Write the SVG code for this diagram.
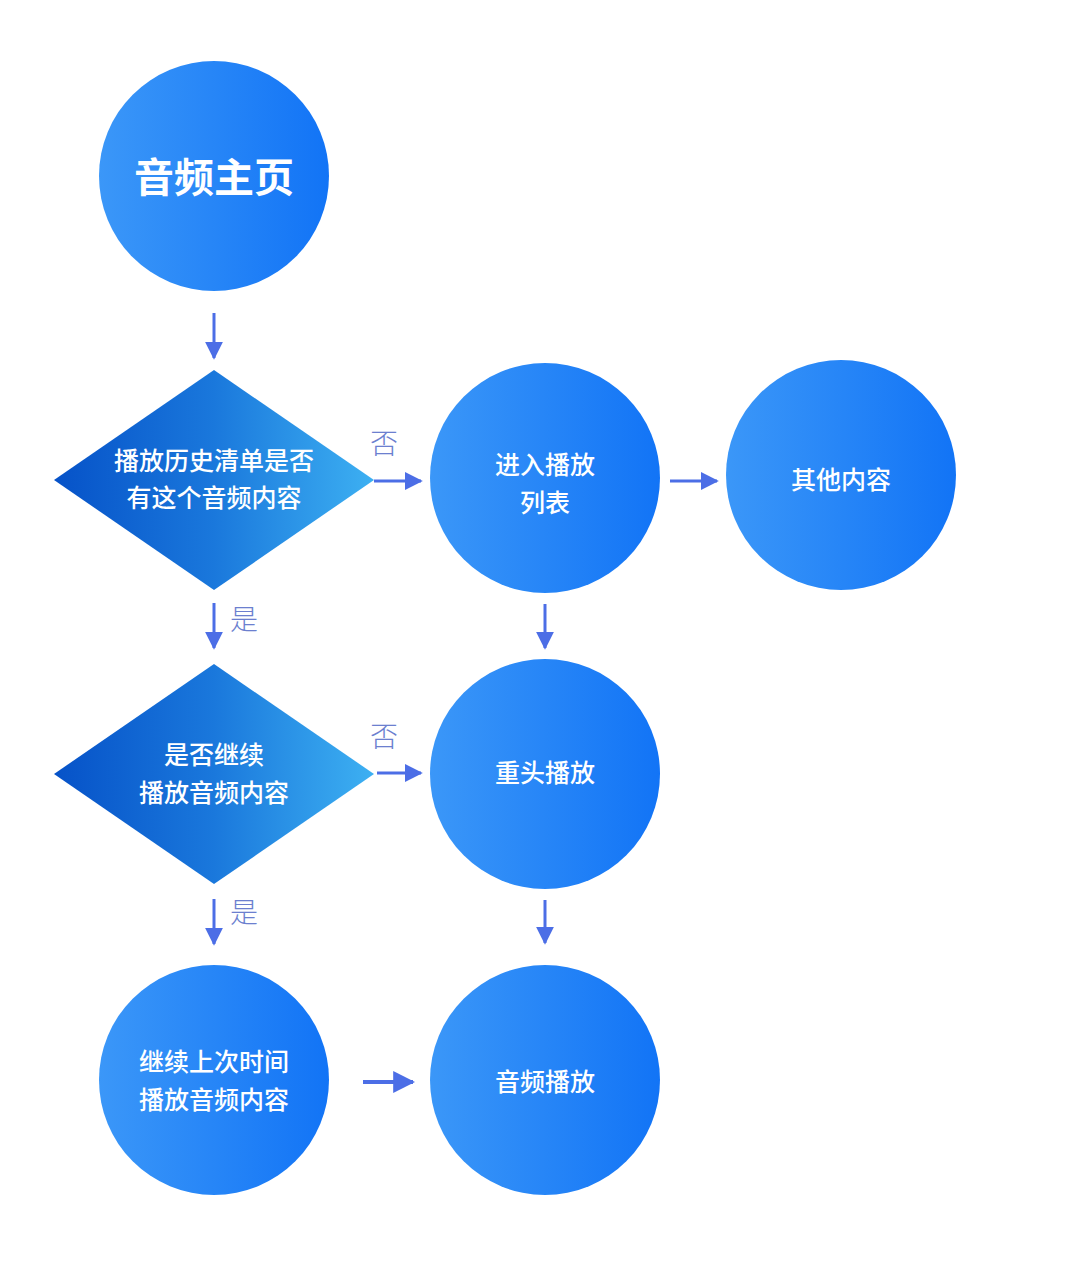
<svg xmlns="http://www.w3.org/2000/svg" width="1080" height="1281" viewBox="0 0 1080 1281">
<defs>
<linearGradient id="gc" x1="0" y1="0" x2="1" y2="0">
<stop offset="0" stop-color="#3b97f8"/>
<stop offset="1" stop-color="#1274f6"/>
</linearGradient>
<linearGradient id="gd" x1="0" y1="0" x2="1" y2="0">
<stop offset="0" stop-color="#0652c8"/>
<stop offset="0.5" stop-color="#1a78dc"/>
<stop offset="1" stop-color="#3db0f2"/>
</linearGradient>
<marker id="ah" viewBox="0 0 10 10" refX="9" refY="5" markerWidth="6" markerHeight="6" markerUnits="strokeWidth" orient="auto">
<path d="M0,0 L10,5 L0,10 Z" fill="#4c6ee6"/>
</marker>
<marker id="ahb" viewBox="0 0 10 10" refX="9" refY="5" markerWidth="5.5" markerHeight="6.5" markerUnits="strokeWidth" orient="auto">
<path d="M0,0 L10,5 L0,10 Z" fill="#4c6ee6"/>
</marker>
</defs>
<style>
.c{fill:url(#gc)}
.d{fill:url(#gd)}
.t{font-family:"Noto Sans CJK SC","Noto Sans",sans-serif;fill:#fff;font-weight:500;text-anchor:middle;font-size:25px}
.big{font-size:40px;font-weight:600}
.l{font-family:"Noto Sans CJK SC","Noto Sans",sans-serif;fill:#6c7fcf;font-weight:300;font-size:28px;text-anchor:middle}
.a{stroke:#4c6ee6;stroke-width:3;fill:none;marker-end:url(#ah)}
.ab{stroke:#4c6ee6;stroke-width:4;fill:none;marker-end:url(#ahb)}
</style>
<rect width="1080" height="1281" fill="#fff"/>
<g id="n1"><circle class="c" cx="214" cy="176" r="115"/><text class="t big" x="214" y="192">音频主页</text></g>
<g id="n2"><path class="d" d="M214,370 L374,480 L214,590 L54,480 Z"/><text class="t" x="214" y="470">播放历史清单是否</text><text class="t" x="214" y="507">有这个音频内容</text></g>
<g id="n3"><circle class="c" cx="545" cy="478" r="115"/><text class="t" x="545" y="474">进入播放</text><text class="t" x="545" y="512">列表</text></g>
<g id="n4"><circle class="c" cx="841" cy="475" r="115"/><text class="t" x="841" y="489">其他内容</text></g>
<g id="n5"><path class="d" d="M214,664 L374,774 L214,884 L54,774 Z"/><text class="t" x="214" y="764">是否继续</text><text class="t" x="214" y="802">播放音频内容</text></g>
<g id="n6"><circle class="c" cx="545" cy="774" r="115"/><text class="t" x="545" y="782">重头播放</text></g>
<g id="n7"><circle class="c" cx="214" cy="1080" r="115"/><text class="t" x="214" y="1071">继续上次时间</text><text class="t" x="214" y="1109">播放音频内容</text></g>
<g id="n8"><circle class="c" cx="545" cy="1080" r="115"/><text class="t" x="545" y="1091">音频播放</text></g>
<g id="connectors">
<line class="a" x1="214" y1="313" x2="214" y2="358"/>
<line class="a" x1="374" y1="481" x2="421" y2="481"/>
<line class="a" x1="670" y1="481" x2="717" y2="481"/>
<line class="a" x1="545" y1="604" x2="545" y2="648"/>
<line class="a" x1="214" y1="603" x2="214" y2="648"/>
<line class="a" x1="377" y1="773" x2="421" y2="773"/>
<line class="a" x1="214" y1="899" x2="214" y2="944"/>
<line class="a" x1="545" y1="900" x2="545" y2="943"/>
<line class="ab" x1="363" y1="1082" x2="413" y2="1082"/>
<text class="l" x="384" y="454">否</text>
<text class="l" x="244" y="630">是</text>
<text class="l" x="384" y="747">否</text>
<text class="l" x="244" y="923">是</text>
</g>
</svg>
